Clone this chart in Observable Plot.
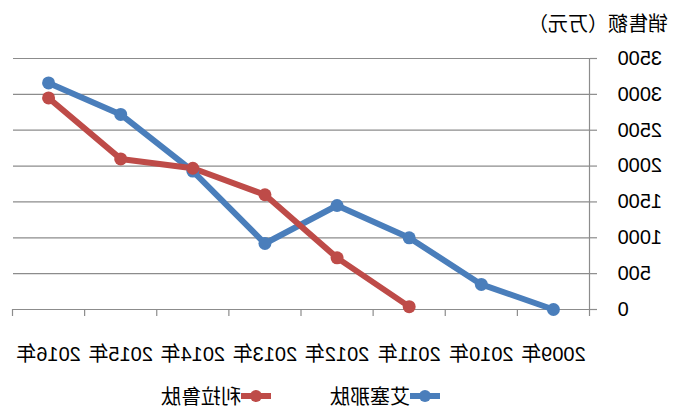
<!DOCTYPE html>
<html>
<head>
<meta charset="utf-8">
<script src="https://cdn.jsdelivr.net/npm/d3@7"></script>
<script src="https://cdn.jsdelivr.net/npm/@observablehq/plot@0.6"></script>
<style>
  html, body { margin: 0; padding: 0; background: #fff; }
  #wrap { width: 680px; height: 416px; transform: scaleX(-1); transform-origin: center; font-family: "Liberation Sans", "Noto Sans CJK SC", sans-serif; color: #000; overflow: hidden; }
  #title { height: 40px; box-sizing: border-box; padding-top: 14px; padding-left: 12px; font-size: 20px; line-height: 20px; }
  #legend { height: 41px; display: flex; align-items: center; padding-left: 240px; font-size: 20px; }
  #legend .item { display: flex; align-items: center; margin-right: 59px; }
  #legend svg { display: block; }
</style>
</head>
<body>
<div id="wrap">
  <div id="title"></div>
  <div id="chart"></div>
  <div id="legend"></div>
</div>
<script>
const years = [2009, 2010, 2011, 2012, 2013, 2014, 2015, 2016];
const yearLabel = "年";
const seriesNames = ["艾塞那肽", "利拉鲁肽"];
const exenatide = [0, 350, 1000, 1450, 920, 1930, 2720, 3160];
const liraglutide = [null, null, 40, 720, 1600, 1970, 2100, 2950];
const yTicks = [0, 500, 1000, 1500, 2000, 2500, 3000, 3500];
const yTitle = "销售额（万元）";
const colors = ["#4A7EBB", "#BE4B48"];

const rows = [];
[exenatide, liraglutide].forEach((vals, si) => {
  vals.forEach((v, i) => {
    if (v != null) rows.push({year: years[i], value: v, series: seriesNames[si]});
  });
});

document.getElementById("title").textContent = yTitle;

const boundaries = [years[0] - 0.5, ...years.map(y => y + 0.5)];
const grey = "#8c8c8c";

const chart = Plot.plot({
  width: 680,
  height: 335,
  marginTop: 18,
  marginBottom: 66,
  marginLeft: 90,
  marginRight: 13,
  style: {fontFamily: "'Liberation Sans', 'Noto Sans CJK SC', sans-serif", fontSize: "20px", color: "#000", background: "#fff"},
  x: {domain: [boundaries[0], boundaries[boundaries.length - 1]], axis: null},
  y: {domain: [0, 3500], axis: null},
  color: {domain: seriesNames, range: colors},
  marks: [
    Plot.gridY(yTicks, {stroke: grey, strokeOpacity: 1, strokeWidth: 1.2}),
    Plot.ruleX([boundaries[0]], {y1: 0, y2: 3500, stroke: grey, strokeWidth: 1.2}),
    Plot.axisY(yTicks, {tickSize: 7, tickPadding: 21, stroke: grey, strokeWidth: 1.2, fill: "#000", fontSize: 20, label: null, tickFormat: d => String(d)}),
    Plot.axisX(boundaries, {tickSize: 7, stroke: grey, strokeWidth: 1.2, tickFormat: () => "", label: null}),
    Plot.axisX(years, {tickSize: 0, tickPadding: 37, fill: "#000", fontSize: 20, label: null, tickFormat: d => d + yearLabel}),
    Plot.line(rows, {x: "year", y: "value", z: "series", stroke: "series", strokeWidth: 6, strokeLinejoin: "round"}),
    Plot.dot(rows, {x: "year", y: "value", fill: "series", r: 6.5})
  ]
});
document.getElementById("chart").appendChild(chart);

const legend = document.getElementById("legend");
seriesNames.forEach((name, i) => {
  const item = document.createElement("div");
  item.className = "item";
  item.innerHTML = `<svg width="30" height="14"><line x1="0" y1="7" x2="30" y2="7" stroke="${colors[i]}" stroke-width="6"/><circle cx="15" cy="7" r="6" fill="${colors[i]}"/></svg><span>${name}</span>`;
  legend.appendChild(item);
});
</script>
</body>
</html>
